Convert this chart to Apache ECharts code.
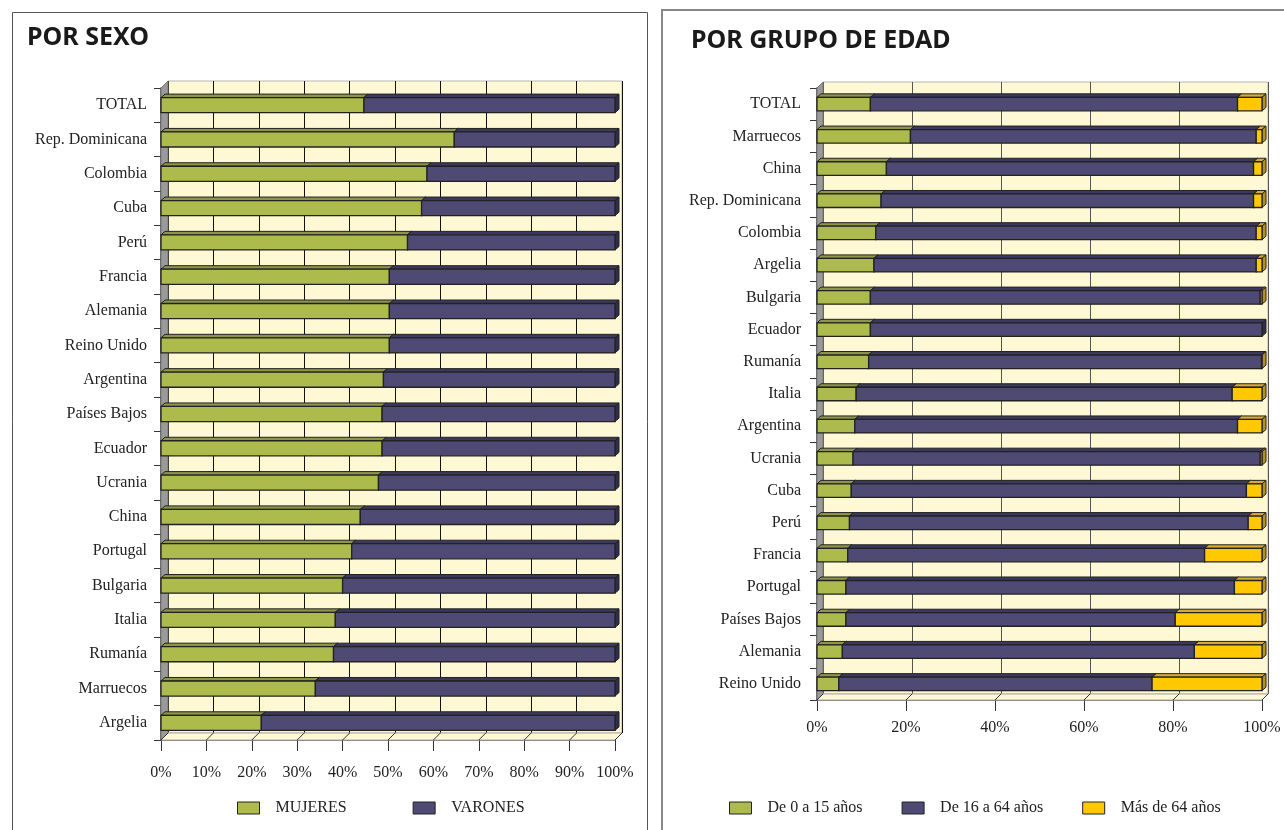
<!DOCTYPE html>
<html>
<head>
<meta charset="utf-8">
<script src="https://cdn.jsdelivr.net/npm/echarts@6/dist/echarts.min.js"></script>
<style>
html,body{margin:0;padding:0;background:#fff;}
#chart{width:1284px;height:830px;}
</style>
</head>
<body>
<div id="chart"></div>
<script>
// ---------- DATA ----------
var catsSexo = ['TOTAL','Rep. Dominicana','Colombia','Cuba','Perú','Francia','Alemania','Reino Unido','Argentina','Países Bajos','Ecuador','Ucrania','China','Portugal','Bulgaria','Italia','Rumanía','Marruecos','Argelia'];
var mujeres = [44.7,64.6,58.6,57.4,54.3,50.3,50.3,50.3,49.0,48.7,48.7,47.9,43.9,42.0,40.0,38.4,38.0,34.0,22.1];
var varones = [55.3,35.4,41.4,42.6,45.7,49.7,49.7,49.7,51.0,51.3,51.3,52.1,56.1,58.0,60.0,61.6,62.0,66.0,77.9];

var catsEdad = ['TOTAL','Marruecos','China','Rep. Dominicana','Colombia','Argelia','Bulgaria','Ecuador','Rumanía','Italia','Argentina','Ucrania','Cuba','Perú','Francia','Portugal','Países Bajos','Alemania','Reino Unido'];
var edad0a15 = [12.0,21.0,15.6,14.4,13.2,12.8,12.0,12.0,11.6,8.8,8.5,8.1,7.7,7.3,6.9,6.5,6.5,5.7,4.9];
var edad16a64 = [82.5,77.7,82.5,83.7,85.5,85.9,87.6,88.0,88.3,84.5,86.0,91.5,88.8,89.6,80.2,87.3,74.0,79.1,70.4];
var edadMas64 = [5.5,1.3,1.9,1.9,1.3,1.3,0.4,0.0,0.1,6.7,5.5,0.4,3.5,3.1,12.9,6.2,19.5,15.2,24.7];

var sexoNames = ['MUJERES','VARONES'];
var edadNames = ['De 0 a 15 años','De 16 a 64 años','Más de 64 años'];
var pctTicksSexo = [0,10,20,30,40,50,60,70,80,90,100];
var pctTicksEdad = [0,20,40,60,80,100];

// ---------- STYLE ----------
var SERIF = '"Liberation Serif","Times New Roman",serif';
var COLORS = {
  green: {front:'#ADBA4C', top:'#8D9548', side:'#7C8538'},
  purple:{front:'#4E4A73', top:'#3C3960', side:'#2F2C4C'},
  yellow:{front:'#FFC800', top:'#D8A934', side:'#B8901E'}
};
var WALL = '#FFF8D4';

function stackData(lists){
  var out = lists.map(function(){return [];});
  for (var i=0;i<lists[0].length;i++){
    var acc=0;
    for (var s=0;s<lists.length;s++){
      var v = lists[s][i];
      out[s].push([acc, acc+v, i]);
      acc += v;
    }
  }
  return out;
}

function makeRender(col, ratio){
  return function(params, api){
    var s = api.value(0), e = api.value(1), ci = api.value(2);
    if (e - s <= 0.001) return null;
    var a = api.coord([s, ci]), b = api.coord([e, ci]);
    var band = api.size([0,1])[1];
    var h = band * ratio;
    var x0 = a[0], x1 = b[0], y0 = a[1]-h/2, y1 = a[1]+h/2;
    var dx = 4, dy = 3.5;
    return {type:'group', children:[
      {type:'polygon', shape:{points:[[x0,y0],[x0+dx,y0-dy],[x1+dx,y0-dy],[x1,y0]]},
        style:{fill:col.top, stroke:'#222', lineWidth:1}},
      {type:'polygon', shape:{points:[[x1,y0],[x1+dx,y0-dy],[x1+dx,y1-dy],[x1,y1]]},
        style:{fill:col.side, stroke:'#222', lineWidth:1}},
      {type:'rect', shape:{x:x0, y:y0, width:x1-x0, height:h},
        style:{fill:col.front, stroke:'#222', lineWidth:1.3}}
    ]};
  };
}

var sexoStack = stackData([mujeres, varones]);
var edadStack = stackData([edad0a15, edad16a64, edadMas64]);

var L = {left:161, top:88, width:454, height:652, d:7};
var R = {left:817, top:88, width:445, height:612, d:6};

function wallGrid(g){ return {left:g.left+g.d, top:g.top-g.d, width:g.width, height:g.height,
  show:true, backgroundColor:WALL, borderColor:'#b5b5b5', borderWidth:1}; }
function frontGrid(g){ return {left:g.left, top:g.top, width:g.width, height:g.height, show:false}; }

var labelStyle = {fontFamily:SERIF, fontSize:16, color:'#222'};

var option = {
  animation:false,
  backgroundColor:'#fff',
  grid:[wallGrid(L), frontGrid(L), wallGrid(R), frontGrid(R)],
  xAxis:[
    {gridIndex:0, type:'value', min:0, max:100, interval:10, axisLine:{show:false}, axisTick:{show:false}, axisLabel:{show:false},
      splitLine:{show:true, lineStyle:{color:'#111', width:1}}},
    {gridIndex:1, type:'value', min:0, max:100, interval:10, splitLine:{show:false},
      axisLine:{show:true, lineStyle:{color:'#444', width:1.5}},
      axisTick:{show:true, length:11, lineStyle:{color:'#333'}},
      axisLabel:Object.assign({formatter:'{value}%', margin:25}, labelStyle)},
    {gridIndex:2, type:'value', min:0, max:100, interval:20, axisLine:{show:false}, axisTick:{show:false}, axisLabel:{show:false},
      splitLine:{show:true, lineStyle:{color:'#555', width:1}}},
    {gridIndex:3, type:'value', min:0, max:100, interval:20, splitLine:{show:false},
      axisLine:{show:true, lineStyle:{color:'#444', width:1.5}},
      axisTick:{show:true, length:11, lineStyle:{color:'#333'}},
      axisLabel:Object.assign({formatter:'{value}%', margin:20}, labelStyle)}
  ],
  yAxis:[
    {gridIndex:0, type:'category', data:catsSexo, inverse:true, show:false},
    {gridIndex:1, type:'category', data:catsSexo, inverse:true,
      axisLine:{show:true, lineStyle:{color:'#333', width:1.5}},
      axisTick:{show:true, length:7, lineStyle:{color:'#333'}},
      axisLabel:Object.assign({margin:14}, labelStyle)},
    {gridIndex:2, type:'category', data:catsEdad, inverse:true, show:false},
    {gridIndex:3, type:'category', data:catsEdad, inverse:true,
      axisLine:{show:true, lineStyle:{color:'#333', width:1.5}},
      axisTick:{show:true, length:7, lineStyle:{color:'#333'}},
      axisLabel:Object.assign({margin:16}, labelStyle)}
  ],
  legend:[
    {data:sexoNames, left:237, top:800, padding:0, itemWidth:22, itemHeight:12, itemGap:66, icon:'rect',
      itemStyle:{borderColor:'#222', borderWidth:1},
      textStyle:Object.assign({padding:[0,0,0,11]}, labelStyle)},
    {data:edadNames, left:729, top:800, padding:0, itemWidth:22, itemHeight:12, itemGap:39, icon:'rect',
      itemStyle:{borderColor:'#222', borderWidth:1},
      textStyle:Object.assign({padding:[0,0,0,11]}, labelStyle)}
  ],
  series:[
    {name:sexoNames[0], type:'custom', xAxisIndex:1, yAxisIndex:1, data:sexoStack[0], encode:{x:[0,1], y:2}, z:3,
      itemStyle:{color:COLORS.green.front}, renderItem:makeRender(COLORS.green, 0.44)},
    {name:sexoNames[1], type:'custom', xAxisIndex:1, yAxisIndex:1, data:sexoStack[1], encode:{x:[0,1], y:2}, z:3,
      itemStyle:{color:COLORS.purple.front}, renderItem:makeRender(COLORS.purple, 0.44)},
    {name:edadNames[0], type:'custom', xAxisIndex:3, yAxisIndex:3, data:edadStack[0], encode:{x:[0,1], y:2}, z:3,
      itemStyle:{color:COLORS.green.front}, renderItem:makeRender(COLORS.green, 0.42)},
    {name:edadNames[1], type:'custom', xAxisIndex:3, yAxisIndex:3, data:edadStack[1], encode:{x:[0,1], y:2}, z:3,
      itemStyle:{color:COLORS.purple.front}, renderItem:makeRender(COLORS.purple, 0.42)},
    {name:edadNames[2], type:'custom', xAxisIndex:3, yAxisIndex:3, data:edadStack[2], encode:{x:[0,1], y:2}, z:3,
      itemStyle:{color:COLORS.yellow.front}, renderItem:makeRender(COLORS.yellow, 0.42)}
  ]
};

function deco(g, ticks){
  var els = [];
  var x0=g.left, y0=g.top, x1=g.left+g.width, y1=g.top+g.height, d=g.d;
  els.push({type:'polygon', z:1, shape:{points:[[x0,y0],[x0+d,y0-d],[x0+d,y1-d],[x0,y1]]},
    style:{fill:'#9a9a9a', stroke:'#777', lineWidth:1}});
  els.push({type:'polygon', z:1, shape:{points:[[x0,y1],[x0+d,y1-d],[x1+d,y1-d],[x1,y1]]},
    style:{fill:WALL, stroke:'#aaa', lineWidth:1}});
  ticks.forEach(function(t){
    var x = x0 + g.width*t/100;
    els.push({type:'line', z:1, shape:{x1:x, y1:y1, x2:x+d, y2:y1-d}, style:{stroke:'#333', lineWidth:1}});
  });
  return els;
}

var graphics = [
  {type:'rect', z:0, shape:{x:12.5, y:12.5, width:635, height:840}, style:{fill:'none', stroke:'#555', lineWidth:1}},
  {type:'rect', z:0, shape:{x:662, y:10, width:660, height:840}, style:{fill:'none', stroke:'#888', lineWidth:2}},
  {type:'text', z:10, left:27, top:25, style:{text:'POR SEXO', font:'bold 25px "Noto Sans", sans-serif', fill:'#1a1a1a'}},
  {type:'text', z:10, left:691, top:28, style:{text:'POR GRUPO DE EDAD', font:'bold 25px "Noto Sans", sans-serif', fill:'#1a1a1a'}}
].concat(deco(L, pctTicksSexo)).concat(deco(R, pctTicksEdad));
option.graphic = {elements: graphics};

var chart = echarts.init(document.getElementById('chart'), null, {renderer:'canvas'});
chart.setOption(option);
</script>
</body>
</html>
